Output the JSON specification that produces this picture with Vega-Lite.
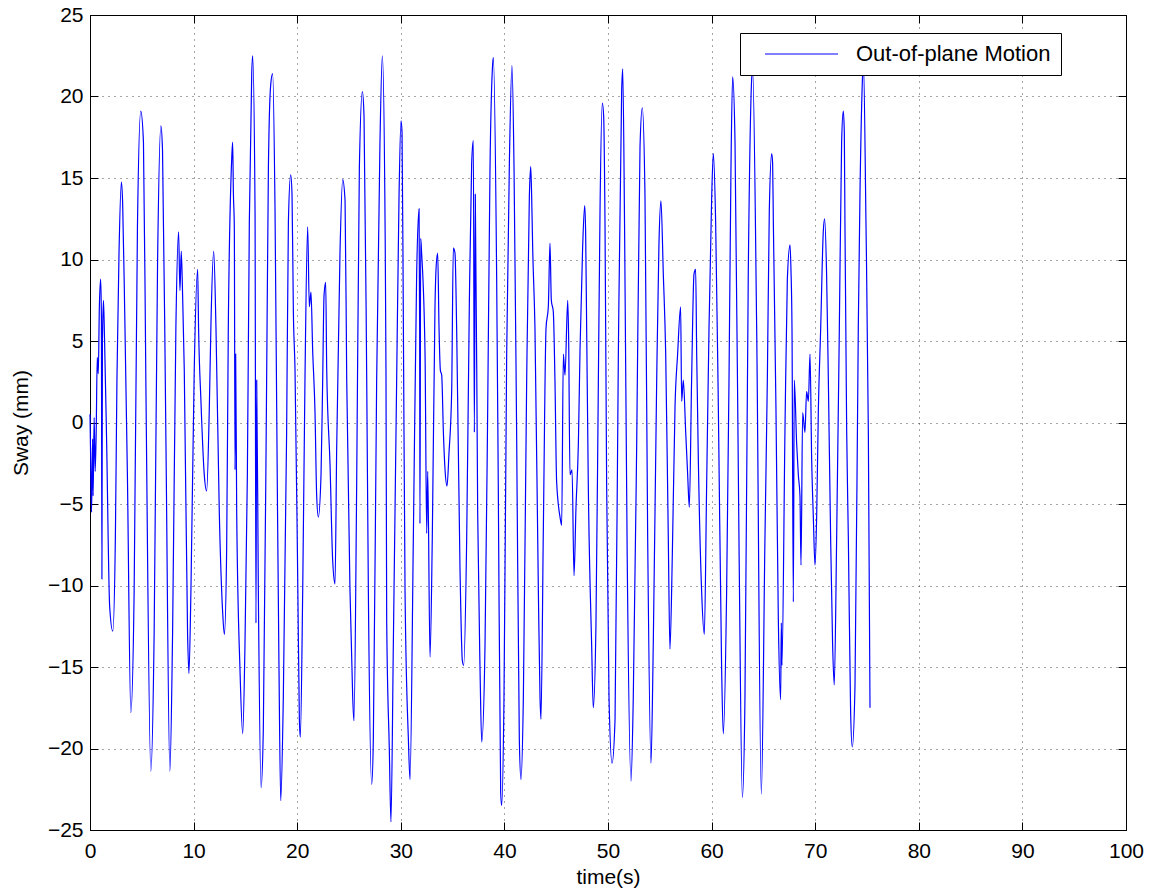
{
"$schema": "https://vega.github.io/schema/vega-lite/v6.json",
"width": 1036, "height": 815,
"autosize": "none",
"padding": {"left": 90, "top": 15, "right": 27, "bottom": 64},
"background": "white",
"config": {
  "view": {"stroke": "#000", "strokeWidth": 1},
  "font": "Liberation Sans",
  "axis": {"domain": false, "grid": true, "gridColor": "#000", "gridDash": [1, 5], "gridOpacity": 0.7, "gridWidth": 1,
    "tickColor": "#000", "tickSize": -8, "tickWidth": 1, "labelFlush": false,
    "labelFont": "Liberation Sans", "labelFontSize": 21, "labelColor": "#000",
    "titleFont": "Liberation Sans", "titleFontSize": 21, "titleFontWeight": "normal", "titleColor": "#000"},
  "legend": {"strokeColor": "#000", "fillColor": "#fff", "padding": 10, "cornerRadius": 0, "strokeWidth": 1,
    "labelFont": "Liberation Sans", "labelFontSize": 22, "labelColor": "#000", "labelLimit": 0}
},
"data": {"values": [
{"t":0,"y":0.5},{"t":0.08,"y":-3},{"t":0.15,"y":-5.5},{"t":0.25,"y":-1},{"t":0.3,"y":-4.5},{"t":0.4,"y":0.3},{"t":0.5,"y":-3},{"t":0.6,"y":-0.5},{"t":0.7,"y":4},{"t":0.8,"y":3},{"t":0.9,"y":7},{"t":1.03,"y":8.8},{"t":1.1,"y":6.5},{"t":1.15,"y":-9.6},{"t":1.2,"y":5},{"t":1.3,"y":7.5},{"t":1.4,"y":5.2},{"t":1.6,"y":-1},{"t":1.9,"y":-11.3},{"t":2.2,"y":-12.8},{"t":2.45,"y":-7},{"t":2.6,"y":2.6},{"t":2.8,"y":10.4},{"t":3.03,"y":14.75},{"t":3.15,"y":13.5},{"t":3.35,"y":6.8},{"t":3.61,"y":-3.2},{"t":3.94,"y":-17.8},{"t":4.26,"y":-10.4},{"t":4.58,"y":12},{"t":4.9,"y":19.1},{"t":5.16,"y":17.2},{"t":5.39,"y":2.6},{"t":5.87,"y":-21.4},{"t":6.19,"y":-13},{"t":6.52,"y":9.7},{"t":6.84,"y":18.2},{"t":7.0,"y":16.7},{"t":7.32,"y":-0.6},{"t":7.71,"y":-21.4},{"t":7.97,"y":-13},{"t":8.29,"y":5.8},{"t":8.55,"y":11.7},{"t":8.68,"y":8.1},{"t":8.81,"y":10.5},{"t":8.94,"y":7.8},{"t":9.1,"y":3.2},{"t":9.42,"y":-13},{"t":9.55,"y":-15.4},{"t":9.74,"y":-10.4},{"t":10.06,"y":3.2},{"t":10.39,"y":9.4},{"t":10.48,"y":5.8},{"t":10.71,"y":1.3},{"t":11.03,"y":-3.2},{"t":11.26,"y":-4.2},{"t":11.52,"y":1},{"t":11.68,"y":6.2},{"t":11.94,"y":10.5},{"t":12.16,"y":5.8},{"t":12.48,"y":-5.5},{"t":12.81,"y":-11.7},{"t":12.97,"y":-13},{"t":13.19,"y":-7.8},{"t":13.35,"y":5.8},{"t":13.68,"y":16.2},{"t":13.77,"y":17.2},{"t":13.84,"y":14.1},{"t":13.93,"y":12},{"t":14.0,"y":-2.9},{"t":14.06,"y":4.2},{"t":14.16,"y":-5.5},{"t":14.48,"y":-15.2},{"t":14.74,"y":-19.1},{"t":14.96,"y":-13.6},{"t":15.19,"y":-3.2},{"t":15.38,"y":12.3},{"t":15.61,"y":21.4},{"t":15.7,"y":22.5},{"t":15.93,"y":13},{"t":16.02,"y":-12.3},{"t":16.09,"y":2.6},{"t":16.25,"y":-10.4},{"t":16.51,"y":-22.4},{"t":16.73,"y":-18.8},{"t":17.05,"y":2.6},{"t":17.22,"y":15.6},{"t":17.44,"y":20.7},{"t":17.63,"y":21.4},{"t":17.86,"y":13},{"t":18.08,"y":-3.9},{"t":18.24,"y":-14.9},{"t":18.41,"y":-23.2},{"t":18.66,"y":-16.9},{"t":18.98,"y":-0.6},{"t":19.15,"y":12.3},{"t":19.37,"y":15.2},{"t":19.5,"y":14},{"t":19.63,"y":6.8},{"t":19.79,"y":3.2},{"t":20.05,"y":-9.6},{"t":20.21,"y":-18.2},{"t":20.3,"y":-19.3},{"t":20.53,"y":-10.4},{"t":20.75,"y":2.6},{"t":21.01,"y":12},{"t":21.17,"y":7.1},{"t":21.33,"y":8},{"t":21.49,"y":4.5},{"t":21.72,"y":0.6},{"t":21.88,"y":-4.5},{"t":22.04,"y":-5.8},{"t":22.3,"y":-3.2},{"t":22.46,"y":2.6},{"t":22.59,"y":7.8},{"t":22.75,"y":8.6},{"t":22.85,"y":3.2},{"t":23.17,"y":-2.6},{"t":23.42,"y":-8.4},{"t":23.65,"y":-9.9},{"t":23.81,"y":-1.6},{"t":24.13,"y":10.4},{"t":24.39,"y":14.9},{"t":24.62,"y":13.6},{"t":24.78,"y":2.6},{"t":25.1,"y":-10.4},{"t":25.36,"y":-16.9},{"t":25.48,"y":-18.3},{"t":25.74,"y":-3.9},{"t":26.0,"y":15.6},{"t":26.29,"y":20.3},{"t":26.45,"y":18.8},{"t":26.71,"y":2.6},{"t":26.87,"y":-10.4},{"t":27.19,"y":-22.2},{"t":27.35,"y":-19.4},{"t":27.67,"y":2.6},{"t":27.99,"y":17.2},{"t":28.22,"y":22.5},{"t":28.48,"y":12.3},{"t":28.57,"y":3.2},{"t":28.64,"y":-12.3},{"t":28.89,"y":-20},{"t":29.05,"y":-24.5},{"t":29.28,"y":-13.6},{"t":29.6,"y":2.6},{"t":29.83,"y":13.9},{"t":30.02,"y":18.5},{"t":30.12,"y":17.8},{"t":30.25,"y":5.8},{"t":30.41,"y":-10.4},{"t":30.73,"y":-19.4},{"t":30.89,"y":-21.9},{"t":31.21,"y":-7.1},{"t":31.53,"y":9.1},{"t":31.76,"y":13.1},{"t":31.82,"y":5.8},{"t":31.85,"y":-6.2},{"t":31.92,"y":11.3},{"t":32.01,"y":10.4},{"t":32.34,"y":4.2},{"t":32.5,"y":-6.8},{"t":32.6,"y":-3},{"t":32.82,"y":-14.4},{"t":33.04,"y":-7.1},{"t":33.3,"y":7.1},{"t":33.4,"y":9.4},{"t":33.56,"y":10.4},{"t":33.69,"y":5.8},{"t":33.82,"y":3.2},{"t":33.95,"y":2.9},{"t":34.11,"y":-0.6},{"t":34.27,"y":-2.9},{"t":34.46,"y":-3.9},{"t":34.65,"y":-1.9},{"t":34.91,"y":1.9},{"t":35.07,"y":10.7},{"t":35.23,"y":10.4},{"t":35.39,"y":5.8},{"t":35.71,"y":-8.8},{"t":35.94,"y":-14.6},{"t":36.07,"y":-14.9},{"t":36.36,"y":-7.1},{"t":36.62,"y":7.5},{"t":36.84,"y":15.9},{"t":37.0,"y":17.3},{"t":37.1,"y":-0.6},{"t":37.19,"y":14},{"t":37.42,"y":-5.5},{"t":37.65,"y":-15.2},{"t":37.81,"y":-19.6},{"t":38.13,"y":-13.6},{"t":38.39,"y":1},{"t":38.61,"y":15.6},{"t":38.84,"y":21.7},{"t":38.93,"y":22.4},{"t":39.25,"y":9.1},{"t":39.41,"y":-3.9},{"t":39.64,"y":-22.7},{"t":39.74,"y":-23.5},{"t":39.96,"y":-16.9},{"t":40.22,"y":4.2},{"t":40.48,"y":15.9},{"t":40.73,"y":21.9},{"t":40.93,"y":15.6},{"t":41.18,"y":-0.6},{"t":41.44,"y":-19.4},{"t":41.6,"y":-21.9},{"t":41.83,"y":-16.9},{"t":42.15,"y":2.6},{"t":42.41,"y":13.9},{"t":42.54,"y":15.7},{"t":42.63,"y":13.9},{"t":42.73,"y":10.7},{"t":42.95,"y":5.8},{"t":43.28,"y":-10.4},{"t":43.44,"y":-16.9},{"t":43.53,"y":-18.2},{"t":43.76,"y":-6.5},{"t":44.02,"y":5.8},{"t":44.24,"y":7.1},{"t":44.4,"y":11},{"t":44.53,"y":7.5},{"t":44.72,"y":6.8},{"t":44.88,"y":2.6},{"t":45.04,"y":-3.6},{"t":45.37,"y":-5.8},{"t":45.53,"y":-6.3},{"t":45.69,"y":4.2},{"t":45.85,"y":2.9},{"t":46.11,"y":7.5},{"t":46.2,"y":5.2},{"t":46.33,"y":-3.2},{"t":46.53,"y":-2.9},{"t":46.72,"y":-9.4},{"t":46.91,"y":-5.2},{"t":47.14,"y":-1.3},{"t":47.3,"y":4.5},{"t":47.55,"y":10.7},{"t":47.75,"y":13.3},{"t":47.84,"y":11.7},{"t":47.94,"y":5.8},{"t":48.1,"y":-3.9},{"t":48.42,"y":-13.6},{"t":48.58,"y":-17.5},{"t":48.84,"y":-12.3},{"t":49.07,"y":2.6},{"t":49.23,"y":13},{"t":49.45,"y":19.6},{"t":49.58,"y":18.8},{"t":49.71,"y":12.3},{"t":49.87,"y":-3.9},{"t":50.1,"y":-16.9},{"t":50.39,"y":-20.9},{"t":50.68,"y":-18.2},{"t":51.0,"y":4.2},{"t":51.32,"y":20.4},{"t":51.42,"y":21.7},{"t":51.6,"y":12},{"t":51.85,"y":-8},{"t":52.22,"y":-22},{"t":52.44,"y":-16.9},{"t":52.77,"y":-1.3},{"t":53.09,"y":16.9},{"t":53.31,"y":19.3},{"t":53.57,"y":13.9},{"t":53.83,"y":-7.1},{"t":54.15,"y":-20.9},{"t":54.37,"y":-13.6},{"t":54.7,"y":2.6},{"t":54.92,"y":11},{"t":55.11,"y":13.6},{"t":55.34,"y":9.1},{"t":55.57,"y":4.2},{"t":55.82,"y":-7.1},{"t":55.98,"y":-13.9},{"t":56.21,"y":-8.1},{"t":56.47,"y":1},{"t":56.72,"y":4.2},{"t":57.01,"y":7.1},{"t":57.11,"y":1.3},{"t":57.27,"y":2.6},{"t":57.5,"y":-0.6},{"t":57.69,"y":-3.2},{"t":57.85,"y":-5.2},{"t":58.07,"y":2.6},{"t":58.3,"y":9.1},{"t":58.46,"y":9.4},{"t":58.56,"y":4.2},{"t":58.72,"y":-2.3},{"t":59.04,"y":-10.4},{"t":59.3,"y":-13},{"t":59.52,"y":-3.9},{"t":59.75,"y":5.8},{"t":60.01,"y":13.9},{"t":60.17,"y":16.5},{"t":60.39,"y":12.3},{"t":60.65,"y":1},{"t":60.97,"y":-15.2},{"t":61.13,"y":-19.1},{"t":61.45,"y":-10.4},{"t":61.68,"y":2.6},{"t":61.87,"y":15.6},{"t":62.03,"y":21.2},{"t":62.26,"y":17.2},{"t":62.64,"y":-7.1},{"t":62.97,"y":-23},{"t":63.22,"y":-16.9},{"t":63.54,"y":9.1},{"t":63.87,"y":21.1},{"t":63.96,"y":21.7},{"t":64.35,"y":5.8},{"t":64.8,"y":-22.8},{"t":65.15,"y":-7.1},{"t":65.38,"y":2.6},{"t":65.57,"y":13},{"t":65.8,"y":16.5},{"t":65.89,"y":15.9},{"t":65.96,"y":12.3},{"t":66.21,"y":1},{"t":66.44,"y":-12},{"t":66.66,"y":-17},{"t":66.73,"y":-12.3},{"t":66.79,"y":-14.9},{"t":67.08,"y":-0.6},{"t":67.31,"y":8.75},{"t":67.57,"y":10.9},{"t":67.66,"y":9.4},{"t":67.76,"y":5.8},{"t":67.89,"y":-11},{"t":67.98,"y":2.6},{"t":68.21,"y":-1.3},{"t":68.37,"y":-3.2},{"t":68.53,"y":-4.5},{"t":68.63,"y":-8.75},{"t":68.79,"y":0.6},{"t":69.01,"y":-0.6},{"t":69.17,"y":1.9},{"t":69.34,"y":1.3},{"t":69.5,"y":4.2},{"t":69.66,"y":-2.3},{"t":69.82,"y":-5.8},{"t":69.98,"y":-8.75},{"t":70.14,"y":-5.8},{"t":70.3,"y":0.6},{"t":70.53,"y":5.8},{"t":70.78,"y":11.7},{"t":70.91,"y":12.5},{"t":71.1,"y":9.1},{"t":71.27,"y":2.6},{"t":71.49,"y":-7.1},{"t":71.68,"y":-13.6},{"t":71.84,"y":-16.1},{"t":72.07,"y":-7.1},{"t":72.33,"y":5.8},{"t":72.55,"y":17.2},{"t":72.71,"y":19.1},{"t":72.81,"y":17.8},{"t":72.87,"y":12.3},{"t":73.04,"y":-0.6},{"t":73.2,"y":-7.1},{"t":73.42,"y":-17.8},{"t":73.58,"y":-19.9},{"t":73.84,"y":-16.2},{"t":74.16,"y":5.8},{"t":74.32,"y":13.9},{"t":74.58,"y":21.4},{"t":74.65,"y":22.2},{"t":74.9,"y":12.3},{"t":75.13,"y":-0.6},{"t":75.29,"y":-17.5}
]},
"layer": [
  {
    "mark": {"type": "line", "strokeWidth": 1.2, "interpolate": "monotone"},
    "encoding": {
      "x": {"field": "t", "type": "quantitative", "scale": {"domain": [0, 100], "nice": false},
        "axis": {"orient": "bottom", "values": [0,10,20,30,40,50,60,70,80,90,100], "title": "time(s)", "labelPadding": 18, "titlePadding": 5}},
      "y": {"field": "y", "type": "quantitative", "scale": {"domain": [-25, 25], "nice": false},
        "axis": {"orient": "left", "values": [-25,-20,-15,-10,-5,0,5,10,15,20,25], "title": "Sway (mm)", "labelPadding": 15, "titlePadding": 16}},
      "color": {"datum": "Out-of-plane Motion", "type": "nominal", "scale": {"range": ["#0000ff"]},
        "legend": {"orient": "none", "legendX": 650, "legendY": 18, "title": null,
          "symbolType": "M4,0H77", "symbolSize": 4, "symbolStrokeWidth": 1, "labelOffset": 84}}
    }
  },
  {
    "mark": {"type": "line", "opacity": 0},
    "encoding": {
      "x": {"field": "t", "type": "quantitative", "scale": {"domain": [0, 100], "nice": false},
        "axis": {"orient": "top", "values": [0,10,20,30,40,50,60,70,80,90,100], "labels": false, "title": null, "grid": false}},
      "y": {"field": "y", "type": "quantitative", "scale": {"domain": [-25, 25], "nice": false},
        "axis": {"orient": "right", "values": [-25,-20,-15,-10,-5,0,5,10,15,20,25], "labels": false, "title": null, "grid": false}}
    }
  }
],
"resolve": {"axis": {"x": "independent", "y": "independent"}}
}
